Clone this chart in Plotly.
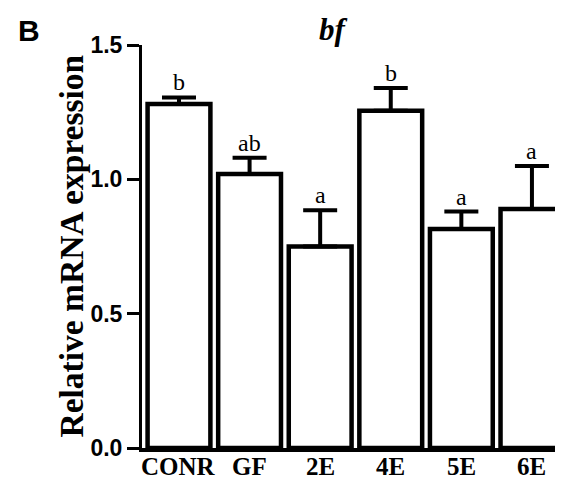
import plotly.graph_objects as go

categories = ["CONR", "GF", "2E", "4E", "5E", "6E"]
means = [1.28, 1.02, 0.75, 1.255, 0.815, 0.89]
sems = [0.025, 0.06, 0.135, 0.085, 0.065, 0.16]
letters = ["b", "ab", "a", "b", "a", "a"]
y_ticks = [0.0, 0.5, 1.0, 1.5]
y_tick_labels = ["0.0", "0.5", "1.0", "1.5"]

serif = "Liberation Serif, Times New Roman, serif"
sans = "Liberation Sans, Arial, sans-serif"

# the page body adds an 8px margin; the figure is sized to fill the rest
PLOT_W = 421

fig = go.Figure()
fig.add_trace(go.Bar(
    x=categories, y=means, width=0.89,
    marker=dict(color="white", line=dict(color="black", width=4.5)),
    error_y=dict(type="data", array=sems, arrayminus=[0]*len(sems), symmetric=False,
                 color="black", thickness=4, width=17),
    showlegend=False, hoverinfo="skip",
))

for c, m, s, t in zip(categories, means, sems, letters):
    fig.add_annotation(x=c, y=m + s, xref="x", yref="y", text=t, showarrow=False,
                       yanchor="bottom", yshift=0,
                       font=dict(family=serif, size=24, color="black"))

# category labels below the axis
for c in categories:
    fig.add_annotation(x=c, y=0, xref="x", yref="paper", text="<b>%s</b>" % c,
                       showarrow=False, yanchor="top", yshift=-3,
                       font=dict(family=serif, size=25, color="black"))

fig.add_annotation(x=0.454, y=1, xref="paper", yref="paper", text="<b><i>bf</i></b>",
                   showarrow=False, yanchor="bottom", yshift=-4,
                   font=dict(family=serif, size=31, color="black"))
fig.add_annotation(x=-113 / PLOT_W, y=1, xref="paper", yref="paper", text="<b>B</b>",
                   showarrow=False, yanchor="bottom", xanchor="center", yshift=-4,
                   font=dict(family=sans, size=30, color="black"))
fig.add_annotation(x=-71 / PLOT_W, y=0.5, xref="paper", yref="paper",
                   text="<b>Relative mRNA expression</b>", textangle=-90,
                   showarrow=False, xanchor="center", yanchor="middle",
                   font=dict(family=serif, size=33.5, color="black"))

fig.update_layout(
    width=555, height=477,
    margin=dict(l=134, r=0, t=37, b=37),
    plot_bgcolor="white", paper_bgcolor="white",
    xaxis=dict(type="category", range=[-0.524, 5.44], showline=True, linecolor="black",
               linewidth=3.5, ticks="", showgrid=False, zeroline=False,
               showticklabels=False),
    yaxis=dict(range=[0, 1.5], tickvals=y_ticks, ticktext=["<b>%s</b>" % v for v in y_tick_labels],
               showline=True, linecolor="black", linewidth=3, ticks="outside",
               ticklen=12, tickwidth=3, tickcolor="black", showgrid=False, zeroline=False,
               tickfont=dict(family=sans, size=23, color="black")),
)

fig.write_html("out.html")
